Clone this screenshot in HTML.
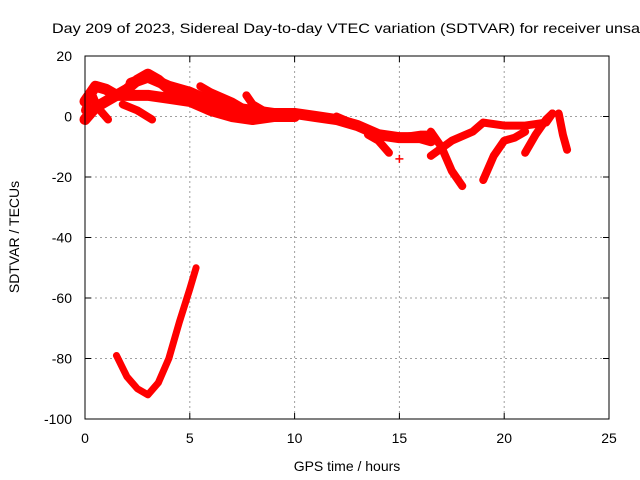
<!DOCTYPE html>
<html><head><meta charset="utf-8"><style>
body{margin:0;background:#fff;overflow:hidden;}
svg{display:block;font-family:"Liberation Sans",sans-serif;}
</style></head><body>
<svg id="chart" width="640" height="480">
<text x="52" y="33" font-size="14" textLength="588" lengthAdjust="spacingAndGlyphs">Day 209 of 2023, Sidereal Day-to-day VTEC variation (SDTVAR) for receiver unsa</text>
<g id="grid"></g><g id="ticks"></g><g id="marks"></g>
<rect x="85" y="56" width="524" height="363" fill="none" stroke="#000" stroke-width="1"/>
<text x="347" y="471" font-size="14" text-anchor="middle">GPS time / hours</text>
<text x="0" y="0" font-size="14" text-anchor="middle" transform="translate(19,237) rotate(-90)">SDTVAR / TECUs</text>
</svg>
<script>
const xTicks=[0,5,10,15,20,25];
const yTicks=[-100,-80,-60,-40,-20,0,20];
const track1=[[0,5],[0.5,10],[1,9],[1.5,7],[2,9],[2.5,12],[3,14],[3.5,12],[4,9],[5,6],[6,3],[7,1],[8,0],[9,1],[10,1],[11,0],[12,-1],[13,-3],[14,-6],[15,-7],[16,-7],[16.5,-8]];
const track2=[[0,-1],[0.5,3],[1,5],[1.5,7],[2,7],[3,7],[4,6],[5,5],[6,2],[7,0],[8,-1],[9,0],[10,0]];
const track3=[[0,2],[0.3,8],[0.6,3],[1.1,-1]];
const track4=[[5.5,10],[6,8],[7,5],[7.5,3]];
const track5=[[7.7,7],[8,4],[8.5,2],[9,1]];
const track6=[[1.8,4],[2.5,2],[3.2,-1]];
const track7=[[12,0],[13,-3],[14,-6],[15,-7],[16,-6],[16.5,-6]];
const track8=[[13.5,-6],[14,-8],[14.5,-12]];
const track9=[[16.5,-5],[17,-10],[17.5,-18],[18,-23]];
const track10=[[16.5,-13],[17.5,-8],[18.5,-5],[19,-2],[20,-3],[21,-3],[22,-2],[22.3,1]];
const track11=[[19,-21],[19.5,-13],[20,-8],[20.5,-7],[21,-5]];
const track12=[[21,-12],[21.5,-6],[22,-1],[22.3,1]];
const track13=[[22.6,1],[22.8,-6],[23,-11]];
const track14=[[1.5,-79],[2,-86],[2.5,-90],[3,-92],[3.5,-88],[4,-80],[4.5,-68],[5,-57],[5.3,-50]];
const track15=[[2.2,11],[3,13],[4,10],[5,8],[6,5],[7,3],[8,2],[9,1]];
const singles=[[15,-14]];
const tracks=[track1,track2,track3,track4,track5,track6,track7,track8,track9,track10,track11,track12,track13,track14,track15];
const NS="http://www.w3.org/2000/svg";
const X=h=>85+h*524/25, Y=v=>419-(v+100)*363/120;
const grid=document.getElementById('grid'),ticks=document.getElementById('ticks'),marks=document.getElementById('marks');
function mk(t,a,p){const e=document.createElementNS(NS,t);for(const k in a)e.setAttribute(k,a[k]);p.appendChild(e);return e;}
xTicks.forEach(t=>{const x=X(t);
 if(t>0&&t<25){const g=mk('line',{x1:x,x2:x,y1:56,y2:419,stroke:'#a0a0a0','stroke-dasharray':'2,3'},grid);
 
 }
 mk('line',{x1:x,x2:x,y1:419,y2:413,stroke:'#000'},ticks);mk('line',{x1:x,x2:x,y1:56,y2:62,stroke:'#000'},ticks);
 const l=mk('text',{x:x,y:443,'font-size':14,'text-anchor':'middle'},ticks);l.textContent=t;
 
 });
yTicks.forEach(t=>{const y=Y(t);
 if(t>-100&&t<20){const g=mk('line',{x1:85,x2:609,y1:y,y2:y,stroke:'#a0a0a0','stroke-dasharray':'2,3'},grid);
 
 }
 mk('line',{x1:85,x2:91,y1:y,y2:y,stroke:'#000'},ticks);mk('line',{x1:609,x2:603,y1:y,y2:y,stroke:'#000'},ticks);
 const l=mk('text',{x:72,y:y+5,'font-size':14,'text-anchor':'end'},ticks);l.textContent=t;
 
 });
tracks.forEach((tr,i)=>{
 const w=(tr===track14)?7:(tr===track1||tr===track2||tr===track15)?11:8;
 const p=mk('polyline',{points:tr.map(d=>X(d[0])+','+Y(d[1])).join(' '),fill:'none',stroke:'#ff0000','stroke-width':w,'stroke-linejoin':'round','stroke-linecap':'round'},marks);
 
 
});
singles.forEach(d=>{const x=X(d[0]),y=Y(d[1]);
 const p=mk('path',{d:`M${x-4},${y}H${x+4}M${x},${y-4}V${y+4}`,stroke:'#ff0000','stroke-width':1.5},marks);
 
 });
</script>
</body></html>
